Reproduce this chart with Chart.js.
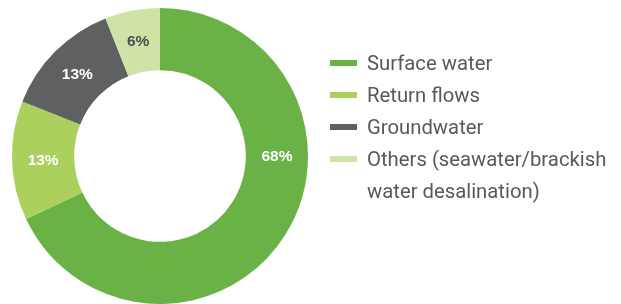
<!DOCTYPE html>
<html>
<head>
<meta charset="utf-8">
<script src="https://cdn.jsdelivr.net/npm/chart.js@4/dist/chart.umd.min.js"></script>
<style>
	body { margin: 0; background: #fff; }
	#wrap { position: relative; width: 621px; height: 304px; }
	#legend { position: absolute; left: 330px; top: 47px; list-style: none; margin: 0; padding: 0;
		font-family: Roboto, "Liberation Sans", sans-serif; font-size: 20.3px; color: #58595b; line-height: 32px; }
	#legend li { position: relative; padding-left: 37px; width: 250px; }
	#legend li span { position: absolute; left: 0; top: 13px; width: 27px; height: 6px; }
</style>
</head>
<body>
<div id="wrap">
	<canvas id="donut" width="621" height="304"></canvas>
	<ul id="legend"></ul>
</div>
<script>
var labels = ["Surface water", "Return flows", "Groundwater", "Others (seawater/brackish water desalination)"];
var legendLines = [["Surface water"], ["Return flows"], ["Groundwater"], ["Others (seawater/brackish", "water desalination)"]];
var shares = [68, 13, 13, 6];
var colors = ["#6ab245", "#acd05d", "#5f6062", "#cfe3a7"];
var labelColors = ["#ffffff", "#ffffff", "#ffffff", "#4d4d4f"];

// draws the % inside each slice, big slice label sits at 3 o'clock
var sliceLabels = {
	id: 'sliceLabels',
	afterDatasetsDraw: function(chart) {
		var ctx = chart.ctx;
		var meta = chart.getDatasetMeta(0);
		ctx.save();
		ctx.font = "bold 15.5px 'Liberation Sans', Arial, sans-serif";
		ctx.textAlign = "center";
		ctx.textBaseline = "middle";
		meta.data.forEach(function(arc, i) {
			var r = (arc.innerRadius + arc.outerRadius) / 2;
			var a = (arc.startAngle + arc.endAngle) / 2;
			if (i === 0) a = 0;
			ctx.fillStyle = labelColors[i];
			ctx.fillText(shares[i] + "%", arc.x + r * Math.cos(a), arc.y + r * Math.sin(a) + 1);
		});
		ctx.restore();
	}
};

new Chart(document.getElementById("donut"), {
	type: 'doughnut',
	data: {
		labels: labels,
		datasets: [{
			data: shares,
			backgroundColor: colors,
			borderWidth: 0
		}]
	},
	options: {
		responsive: false,
		animation: false,
		cutout: '58%',
		layout: { padding: { left: 12, top: 8, right: 313, bottom: 0 } },
		plugins: {
			legend: { display: false },
			tooltip: { enabled: false }
		}
	},
	plugins: [sliceLabels]
});

var ul = document.getElementById("legend");
for (var i = 0; i < labels.length; i++) {
	var li = document.createElement("li");
	var sw = document.createElement("span");
	sw.style.background = colors[i];
	li.appendChild(sw);
	li.appendChild(document.createTextNode(legendLines[i].join(" ")));
	ul.appendChild(li);
}
</script>
</body>
</html>
